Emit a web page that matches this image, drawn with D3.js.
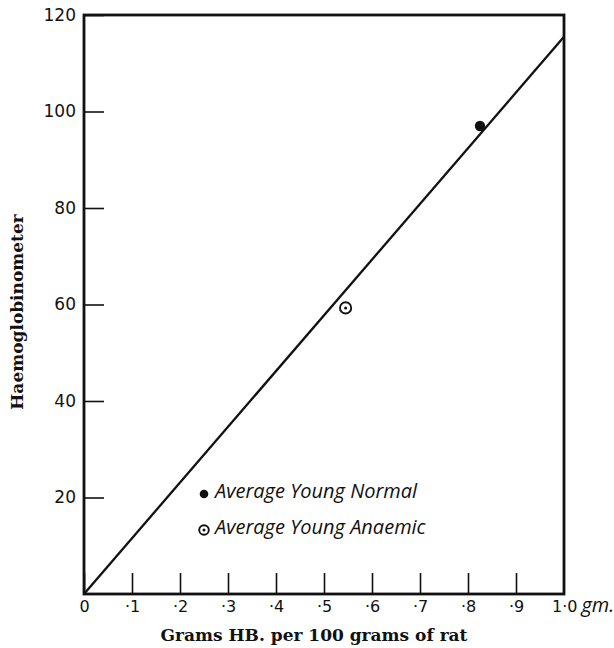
<!DOCTYPE html>
<html>
<head>
<meta charset="utf-8">
<script src="https://cdn.jsdelivr.net/npm/d3@7"></script>
<style>
  body { margin: 0; background: #fff; }
  svg { display: block; }
  .tick text { fill: #111; }
</style>
</head>
<body>
<div id="chart"></div>
<script>
// axis ticks
let xTicks = [0, 0.1, 0.2, 0.3, 0.4, 0.5, 0.6, 0.7, 0.8, 0.9];
let xTickLabels = ["0", "\u00b71", "\u00b72", "\u00b73", "\u00b74", "\u00b75", "\u00b76", "\u00b77", "\u00b78", "\u00b79"];
let yTicks = [20, 40, 60, 80, 100, 120];

// fitted line through origin
let lineX = [0, 1.0];
let lineY = [0, 115.5];

// averages
let seriesNames = ["Average Young Normal", "Average Young Anaemic"];
let pointX = [0.825, 0.545];
let pointY = [97, 59.3];

let W = 614, H = 648;
let ink = "#111";
let tickFont = "'DejaVu Sans', 'Liberation Sans', sans-serif";
let titleFont = "'DejaVu Serif', 'Liberation Serif', serif";

let svg = d3.select("#chart")
  .append("svg")
  .attr("width", W)
  .attr("height", H);

let x = d3.scaleLinear().domain([0, 1]).range([84, 564]);
let y = d3.scaleLinear().domain([0, 120]).range([594, 15]);

// x axis, ticks pointing up into the plot
let xAxis = svg.append("g")
  .attr("transform", "translate(0," + y(0) + ")")
  .call(d3.axisBottom(x)
    .tickValues(xTicks)
    .tickFormat(function (d, i) { return xTickLabels[i]; })
    .tickSizeInner(-21)
    .tickSizeOuter(0)
    .tickPadding(7));
xAxis.select(".domain").remove();
xAxis.selectAll("line").attr("stroke", ink).attr("stroke-width", 1.6);
xAxis.selectAll("text")
  .style("font-family", tickFont)
  .style("font-size", "16px");

let yAxis = svg.append("g")
  .attr("transform", "translate(" + x(0) + ",0)")
  .call(d3.axisLeft(y)
    .tickValues(yTicks)
    .tickSizeInner(-20)
    .tickSizeOuter(0)
    .tickPadding(8));
yAxis.select(".domain").remove();
yAxis.selectAll("line").attr("stroke", ink).attr("stroke-width", 1.6);
yAxis.selectAll("text")
  .style("font-family", tickFont)
  .style("font-size", "17px");

// frame
svg.append("rect")
  .attr("x", x(0))
  .attr("y", y(120))
  .attr("width", x(1) - x(0))
  .attr("height", y(0) - y(120))
  .attr("fill", "none")
  .attr("stroke", ink)
  .attr("stroke-width", 2.8);

// "1·0 gm." at the corner
let endLab = svg.append("text")
  .attr("x", x(1) - 12)
  .attr("y", y(0) + 18)
  .style("fill", ink);
endLab.append("tspan")
  .style("font-family", tickFont)
  .style("font-size", "16px")
  .text("1\u00b70");
endLab.append("tspan")
  .attr("dx", 4)
  .style("font-family", "'Open Sans', sans-serif")
  .style("font-style", "italic")
  .style("font-size", "20px")
  .text("gm.");

// line
let lineData = lineX.map(function (d, i) { return [d, lineY[i]]; });
svg.append("path")
  .datum(lineData)
  .attr("d", d3.line()
    .x(function (d) { return x(d[0]); })
    .y(function (d) { return y(d[1]); }))
  .attr("fill", "none")
  .attr("stroke", ink)
  .attr("stroke-width", 2.3);

// points
function marker(g, i, cx, cy, big) {
  if (i == 0) {
    g.append("circle").attr("cx", cx).attr("cy", cy).attr("r", big ? 5.2 : 4.3).attr("fill", ink);
  } else {
    g.append("circle").attr("cx", cx).attr("cy", cy).attr("r", big ? 5.6 : 4.8)
      .attr("fill", "#fff").attr("stroke", ink).attr("stroke-width", 1.9);
    g.append("circle").attr("cx", cx).attr("cy", cy).attr("r", 1.5).attr("fill", ink);
  }
}
let pts = svg.append("g");
pointX.forEach(function (d, i) {
  marker(pts, i, x(d), y(pointY[i]), true);
});

// legend
let leg = svg.append("g");
seriesNames.forEach(function (name, i) {
  let ly = 494 + i * 36;
  marker(leg, i, 204, ly, false);
  leg.append("text")
    .attr("x", 215)
    .attr("y", ly + 4)
    .style("font-family", "'Open Sans', sans-serif")
    .style("font-style", "italic")
    .style("font-size", "20px")
    .style("fill", ink)
    .text(name);
});

// axis titles
svg.append("text")
  .attr("x", 314)
  .attr("y", 641)
  .attr("text-anchor", "middle")
  .style("font-family", titleFont)
  .style("font-weight", "bold")
  .style("font-size", "17px")
  .style("fill", ink)
  .text("Grams HB. per 100 grams of rat");

svg.append("text")
  .attr("transform", "translate(23,312) rotate(-90)")
  .attr("text-anchor", "middle")
  .style("font-family", titleFont)
  .style("font-weight", "bold")
  .style("font-size", "17px")
  .style("fill", ink)
  .text("Haemoglobinometer");
</script>
</body>
</html>
